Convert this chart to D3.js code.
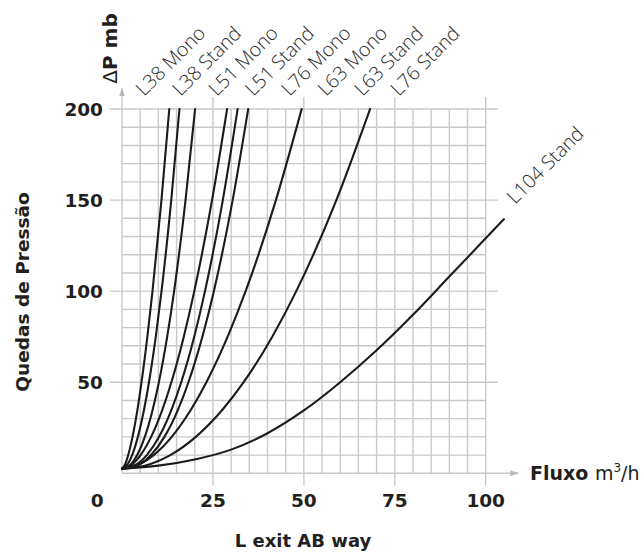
<!DOCTYPE html>
<html>
<head>
<meta charset="utf-8">
<script src="https://cdn.jsdelivr.net/npm/d3@7"></script>
<style>
  html, body { margin: 0; padding: 0; background: #ffffff; }
  svg { display: block; }
</style>
</head>
<body>
<div id="chart"></div>
<script>
// ---------------- DATA ----------------
const curveNames = ["L38 Mono", "L38 Stand", "L51 Mono", "L51 Stand", "L76 Mono", "L63 Mono", "L63 Stand", "L76 Stand"];
// pressure-drop levels (mb) at which the flows (m3/h) of the first eight curves were read
const dpLevels     = [2.5, 5,    10,   20,    35,    50,    75,    100,   150,   200];
const flowL38Mono  = [0,   0.87, 1.71, 2.89,  4.25,  5.37,  6.98,  8.39,  10.85, 13.0];
const flowL38Stand = [0,   1.56, 2.79, 4.37,  6.07,  7.42,  9.29,  10.87, 13.54, 15.8];
const flowL51Mono  = [0,   2.47, 4.18, 6.28,  8.45,  10.14, 12.43, 14.33, 17.47, 20.1];
const flowL51Stand = [0,   2.85, 5.10, 8.00,  11.11, 13.58, 16.99, 19.88, 24.76, 28.9];
const flowL76Mono  = [0,   4.08, 6.83, 10.18, 13.62, 16.28, 19.86, 22.82, 27.72, 31.8];
const flowL63Mono  = [0,   4.86, 7.96, 11.66, 15.41, 18.27, 22.10, 25.26, 30.43, 34.7];
const flowL63Stand = [0,   4.88, 8.72, 13.67, 18.98, 23.21, 29.05, 33.99, 42.32, 49.4];
const flowL76Stand = [0,   7.67, 13.29, 20.30, 27.67, 33.45, 41.32, 47.92, 58.94, 68.2];
// L104 Stand curve
const l104Name = "L104 Stand";
const l104Flow = [0,   10,  20,  30,   40,   50,   60,   70,   80,   90,    100,   105];
const l104Dp   = [2.5, 4.2, 7.6, 13.0, 22.0, 34.5, 50.0, 67.5, 87.0, 108.0, 129.0, 139.5];
// axes
const xTicks = [0, 25, 50, 75, 100];
const yTicks = [50, 100, 150, 200];
const xMinorStep = 5, yMinorStep = 10;
const xTitle = "L exit AB way";
const yTitle = "Quedas de Pressão";
const yUnitSymbol = "Δ", yUnitText = "P mb";
const xUnitBold = "Fluxo", xUnit = "m", xUnitSup = "3", xUnitTail = "/h";

// ---------------- DRAW ----------------
const W = 644, H = 557;
const svg = d3.select("#chart").append("svg").attr("width", W).attr("height", H);

const x = d3.scaleLinear().domain([0, 100]).range([122, 485.7]);
const y = d3.scaleLinear().domain([0, 200]).range([473.3, 109]);

const gridCol = "#c9c9c9";
const inkCol = "#231f20";
const boldFont = "'DejaVu Sans', sans-serif";

const grid = svg.append("g").attr("stroke", gridCol).attr("stroke-width", 1.4).attr("fill", "none");
d3.range(xMinorStep, 100 + 0.01, xMinorStep).forEach(v => {
  const major = xTicks.includes(v);
  grid.append("line")
    .attr("x1", x(v)).attr("x2", x(v))
    .attr("y1", major ? y(0) + 12 : y(0)).attr("y2", major ? y(200) - 12 : y(200));
});
d3.range(yMinorStep, 200 + 0.01, yMinorStep).forEach(v => {
  const major = yTicks.includes(v);
  grid.append("line")
    .attr("y1", y(v)).attr("y2", y(v))
    .attr("x1", major ? x(0) - 12 : x(0)).attr("x2", major ? x(100) + 12 : x(100));
});
svg.append("defs").append("marker")
  .attr("id", "arr").attr("viewBox", "0 0 10 10").attr("refX", 10).attr("refY", 5)
  .attr("markerWidth", 6).attr("markerHeight", 6).attr("orient", "auto")
  .append("path").attr("d", "M0,1.5 L10,5 L0,8.5 Z").attr("fill", "#b9b9b9");
svg.append("line").attr("x1", x(0)).attr("x2", x(0)).attr("y1", y(0)).attr("y2", y(200) - 21)
  .attr("stroke", gridCol).attr("stroke-width", 1.4).attr("marker-end", "url(#arr)");
svg.append("line").attr("x1", x(0)).attr("x2", x(100) + 33).attr("y1", y(0)).attr("y2", y(0))
  .attr("stroke", gridCol).attr("stroke-width", 1.4).attr("marker-end", "url(#arr)");

// curves
const series = [flowL38Mono, flowL38Stand, flowL51Mono, flowL51Stand, flowL76Mono, flowL63Mono, flowL63Stand, flowL76Stand]
  .map((fl, i) => ({ name: curveNames[i], pts: fl.map((f, j) => [f, dpLevels[j]]) }));
series.push({ name: l104Name, pts: l104Flow.map((f, j) => [f, l104Dp[j]]) });

const line = d3.line().x(d => x(d[0])).y(d => y(d[1])).curve(d3.curveMonotoneX);
svg.append("g").selectAll("path").data(series).join("path")
  .attr("d", d => line(d.pts))
  .attr("fill", "none").attr("stroke", "#1b1b1b").attr("stroke-width", 2.1)
  .attr("stroke-linejoin", "round").attr("stroke-linecap", "round");

// curve labels (rotated)
const labFont = "'Open Sans', sans-serif";
const labSize = 19.5;
curveNames.forEach((n, i) => {
  const lx = 144 + i * 36.4, ly = 97;
  svg.append("text").attr("transform", `translate(${lx},${ly}) rotate(-45)`)
    .attr("font-family", labFont).attr("font-weight", 300).attr("font-size", labSize)
    .attr("fill", "#2a2a2a").text(n);
});
svg.append("text").attr("transform", `translate(515,205) rotate(-45)`)
  .attr("font-family", labFont).attr("font-weight", 300).attr("font-size", labSize)
  .attr("fill", "#2a2a2a").text(l104Name);

// tick labels
xTicks.forEach(v => {
  svg.append("text").attr("x", v === 0 ? 97.3 : x(v)).attr("y", 506.7)
    .attr("text-anchor", "middle").attr("font-family", boldFont).attr("font-weight", "bold")
    .attr("font-size", 18.5).attr("fill", inkCol).text(v);
});
yTicks.forEach(v => {
  svg.append("text").attr("x", 103).attr("y", y(v) + 6.7)
    .attr("text-anchor", "end").attr("font-family", boldFont).attr("font-weight", "bold")
    .attr("font-size", 18.5).attr("fill", inkCol).text(v);
});

// titles
svg.append("text").attr("x", 303).attr("y", 547.3).attr("text-anchor", "middle")
  .attr("font-family", boldFont).attr("font-weight", "bold").attr("font-size", 18)
  .attr("fill", inkCol).text(xTitle);
svg.append("text").attr("transform", "translate(29,292) rotate(-90)").attr("text-anchor", "middle")
  .attr("font-family", boldFont).attr("font-weight", "bold").attr("font-size", 18.5)
  .attr("fill", inkCol).text(yTitle);
const yu = svg.append("text").attr("transform", "translate(117,48.5) rotate(-90)").attr("text-anchor", "middle")
  .attr("font-family", boldFont).attr("font-size", 20).attr("fill", inkCol);
yu.append("tspan").attr("font-weight", "normal").text(yUnitSymbol);
yu.append("tspan").attr("font-weight", "bold").text(yUnitText);
const xu = svg.append("text").attr("x", 530).attr("y", 480)
  .attr("font-family", boldFont).attr("font-size", 19).attr("fill", inkCol);
xu.append("tspan").attr("font-weight", "bold").text(xUnitBold + " ");
xu.append("tspan").attr("font-weight", "normal").text(xUnit);
xu.append("tspan").attr("font-weight", "normal").attr("font-size", 12).attr("dy", -8).text(xUnitSup);
xu.append("tspan").attr("font-weight", "normal").attr("dy", 8).text(xUnitTail);
</script>
</body>
</html>
